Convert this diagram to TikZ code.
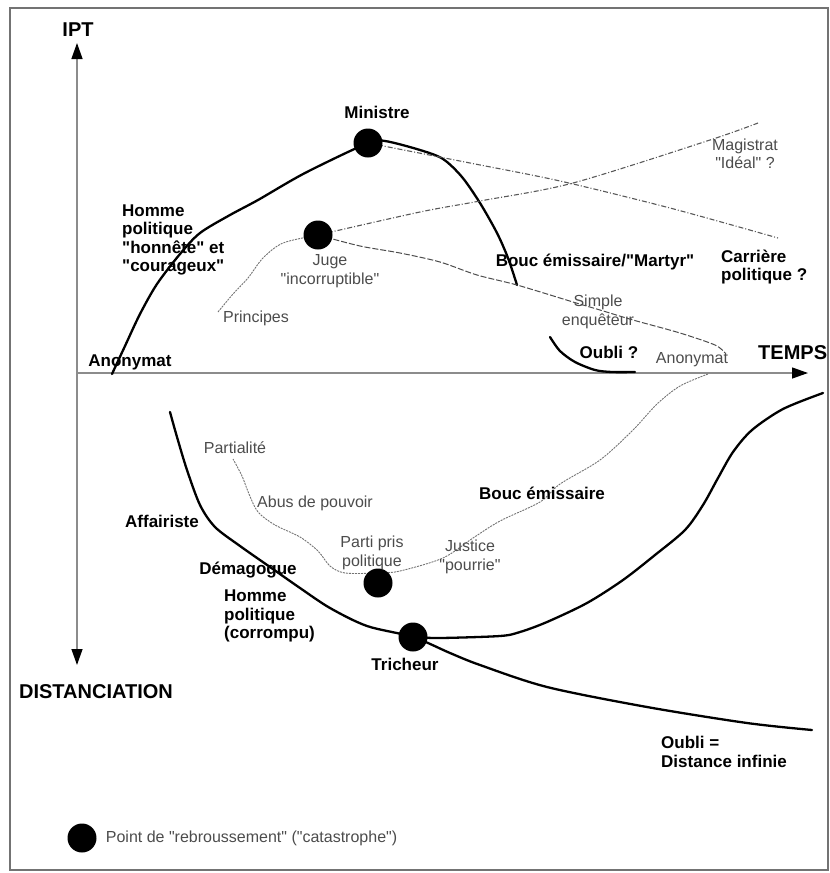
\documentclass[tikz,border=0pt]{standalone}
\usepackage{fontspec}
\setmainfont{Liberation Sans}
\newfontfamily\plainsans{Liberation Sans}
\usetikzlibrary{arrows.meta,positioning}

\begin{document}
\begin{tikzpicture}[x=1pt, y=-1pt,
  >={Triangle[length=16pt,width=11pt,color=black]},
  lbl/.style={font=\plainsans\fontsize{17}{18.5}\selectfont\bfseries, inner sep=1pt, align=center},
  note/.style={font=\plainsans\fontsize{16}{18.5}\selectfont, text=black!70, inner sep=1pt, align=center},
  axlbl/.style={font=\plainsans\fontsize{20}{22}\selectfont\bfseries, inner sep=1pt},
  dot/.style={circle, fill=black, minimum size=29pt, inner sep=0pt},
  axis/.style={black!45, line width=1.3pt},
  heavy/.style={line width=2.3pt, line join=round, line cap=round},
  faint/.style={black!55, line width=0.9pt, dash pattern=on 2pt off 1pt},
  dashy/.style={black!70, line width=1pt, dash pattern=on 6pt off 2pt},
  dashdot/.style={black!65, line width=1.1pt, dash pattern=on 5pt off 2pt on 1pt off 2pt},
]
  % frame and axes
  \path[use as bounding box] (0,0) rectangle (830,873);
  \draw[black!55, line width=1.5pt] (10,8) rectangle (828,870);
  \coordinate (o) at (77,373);
  \coordinate (ytop) at (77,43);
  \coordinate (ybot) at (77,665);
  \coordinate (xend) at (808,373);
  \draw[axis, <->] (ybot) -- (ytop);
  \draw[axis, ->] (o) -- (xend);
  \node[axlbl] (ipt) at (78,30) {IPT};
  \node[axlbl, anchor=west] (temps) at (757,353) {TEMPS};
  \node[axlbl] (dist) at (96,692) {DISTANCIATION};

  % turning points
  \coordinate (pmin) at (368,143);
  \coordinate (pjuge) at (318,235);
  \coordinate (pparti) at (378,583);
  \coordinate (ptrich) at (413,637);
  \coordinate (pleg) at (82,838);

  % upper careers
  \draw[heavy] plot[smooth] coordinates {(112,374) (125,346) (140,314) (157,284) (180,254) (200,233) (230,215) (258,200) (305,173) (pmin) (385,141) (420,150) (443,159) (462,177) (480,203) (497,233) (508,258) (517,285)};
  \draw[heavy] plot[smooth] coordinates {(550,337) (560,351) (575,362) (595,370) (612,372) (635,372)};
  \draw[dashdot] plot[smooth] coordinates {(pmin) (470,163) (560,181) (670,208) (778,238)};
  \draw[dashdot] plot[smooth] coordinates {(pjuge) (420,212) (480,201) (573,183) (710,140) (758,123)};
  \draw[faint] plot[smooth] coordinates {(218,312) (233,294) (248,278) (263,258) (283,243) (pjuge)};
  \draw[dashy] plot[smooth] coordinates {(pjuge) (360,246) (400,253) (440,262) (477,275) (517,285) (573,302) (600,310) (633,320) (680,333) (715,345) (725,353)};

  % lower careers
  \draw[faint] plot[smooth] coordinates {(708,374) (680,386) (657,404) (633,430) (600,460) (560,484) (540,502) (500,521) (473,538) (443,558) (400,571) (378,573) (345,573) (330,566) (318,551) (300,537) (275,525) (258,512) (249,494) (242,476) (233,459)};
  \draw[heavy] plot[smooth] coordinates {(170,412) (177,437) (187,470) (200,505) (215,527) (240,546) (270,567) (300,588) (330,608) (367,626) (ptrich) (450,653) (480,665) (547,687) (647,707) (747,723) (812,730)};
  \draw[heavy] plot[smooth] coordinates {(ptrich) (440,638) (500,636) (520,632) (547,622) (587,603) (623,580) (655,555) (685,530) (703,505) (718,478) (733,452) (752,430) (783,409) (823,393)};

  % dots
  \node[dot] (min) at (pmin) {};
  \node[dot] (juge) at (pjuge) {};
  \node[dot] (parti) at (pparti) {};
  \node[dot] (trich) at (ptrich) {};
  \node[dot] (leg) at (pleg) {};

  % labels
  \node[lbl] (lmin) at (377,112) {Ministre};
  \node[lbl, anchor=west, align=left] (honnete) at (121,240) {Homme\\politique\\"honnête" et\\"courageux"};
  \node[lbl] (anon1) at (130,362) {Anonymat};
  \node[note] (princ) at (256,318) {Principes};
  \node[note] (ljuge) at (330,271) {Juge\\"incorruptible"};
  \node[lbl] (martyr) at (595,262) {Bouc émissaire/"Martyr"};
  \node[note] (magis) at (745,154) {Magistrat\\"Idéal" ?};
  \node[lbl, anchor=west, align=left] (carr) at (720,267) {Carrière\\politique ?};
  \node[note] (enq) at (598,312) {Simple\\enquêteur};
  \node[lbl] (oubli) at (609,352) {Oubli ?};
  \node[note] (anon2) at (692,360) {Anonymat};
  \node[note] (partial) at (235,448) {Partialité};
  \node[note] (abus) at (315,503) {Abus de pouvoir};
  \node[lbl] (affair) at (162,521) {Affairiste};
  \node[note] (lparti) at (372,553) {Parti pris\\politique};
  \node[lbl] (demag) at (248,570) {Démagogue};
  \node[lbl, anchor=west, align=left] (corr) at (223,616) {Homme\\politique\\(corrompu)};
  \node[lbl] (ltrich) at (405,664) {Tricheur};
  \node[note] (just) at (470,557) {Justice\\"pourrie"};
  \node[lbl] (bouc) at (542,493) {Bouc émissaire};
  \node[lbl, anchor=west, align=left] (oubli2) at (660,752) {Oubli =\\Distance infinie};
  \node[note, anchor=west, right=8pt of leg] (legtxt) {Point de "rebroussement" ("catastrophe")};
\end{tikzpicture}
\end{document}
